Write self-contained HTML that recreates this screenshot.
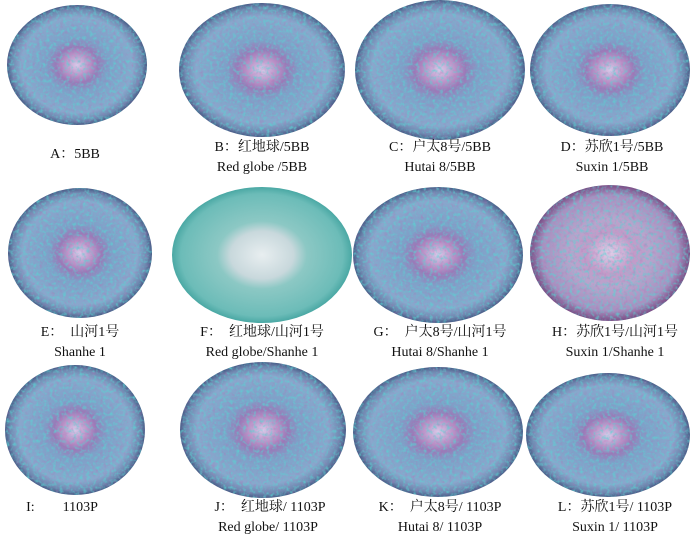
<!DOCTYPE html>
<html><head><meta charset="utf-8"><style>
html,body{margin:0;padding:0;background:#fff;}
svg{display:block}
text{font-family:"Liberation Serif","Noto Serif CJK SC",serif;font-size:14px;fill:#111;text-anchor:middle;white-space:pre}
</style></head><body>
<svg width="700" height="541" viewBox="0 0 700 541">
<defs>
<radialGradient id="g" cx="50%" cy="50%" r="50%">
<stop offset="0" stop-color="#d8c8e8"/>
<stop offset="0.2" stop-color="#b88cc4"/>
<stop offset="0.3" stop-color="#9a7ab8"/>
<stop offset="0.45" stop-color="#7fa0c8"/>
<stop offset="0.8" stop-color="#8aa6cc"/>
<stop offset="0.93" stop-color="#6f88b0"/>
<stop offset="1" stop-color="#4a5d88"/>
</radialGradient>
<radialGradient id="gp" cx="50%" cy="50%" r="50%">
<stop offset="0" stop-color="#e0cde8"/>
<stop offset="0.3" stop-color="#c49ac8"/>
<stop offset="0.5" stop-color="#b8a4cc"/>
<stop offset="0.85" stop-color="#a890c0"/>
<stop offset="1" stop-color="#7a4e86"/>
</radialGradient>
<radialGradient id="gg" cx="50%" cy="50%" r="50%">
<stop offset="0" stop-color="#e8eef0"/>
<stop offset="0.35" stop-color="#c8d8dc"/>
<stop offset="0.5" stop-color="#8cc8c4"/>
<stop offset="0.9" stop-color="#6cbcb8"/>
<stop offset="1" stop-color="#4aa8a4"/>
</radialGradient>
<filter id="n" x="0" y="0" width="100%" height="100%">
<feTurbulence type="fractalNoise" baseFrequency="0.3" numOctaves="2" seed="3"/>
<feColorMatrix type="matrix" values="0 0 0 0 0.1  0 0 0 0 0.65  0 0 0 0 0.65  0 0 0 2 -0.9"/>
<feComposite in2="SourceGraphic" operator="in"/>
</filter>
<filter id="n2" x="0" y="0" width="100%" height="100%">
<feTurbulence type="fractalNoise" baseFrequency="0.25" numOctaves="2" seed="9"/>
<feColorMatrix type="matrix" values="0 0 0 0 0.45  0 0 0 0 0.15  0 0 0 0 0.45  0 0 0 2 -1.1"/>
<feComposite in2="SourceGraphic" operator="in"/>
</filter>
<g id="m">
<ellipse cx="77" cy="65" rx="70" ry="60"/><ellipse cx="262" cy="70" rx="83" ry="67"/>
<ellipse cx="440" cy="70" rx="85" ry="70"/><ellipse cx="610" cy="70" rx="80" ry="66"/>
<ellipse cx="80" cy="253" rx="72" ry="65"/><ellipse cx="438" cy="255" rx="85" ry="68"/>
<ellipse cx="610" cy="253" rx="80" ry="68"/><ellipse cx="75" cy="430" rx="70" ry="65"/>
<ellipse cx="263" cy="430" rx="83" ry="68"/><ellipse cx="438" cy="432" rx="85" ry="65"/>
<ellipse cx="608" cy="435" rx="82" ry="62"/>
</g>
</defs>
<g>
<ellipse cx="77" cy="65" rx="70" ry="60" fill="url(#g)"/>
<ellipse cx="262" cy="70" rx="83" ry="67" fill="url(#g)"/>
<ellipse cx="440" cy="70" rx="85" ry="70" fill="url(#g)"/>
<ellipse cx="610" cy="70" rx="80" ry="66" fill="url(#g)"/>
<ellipse cx="80" cy="253" rx="72" ry="65" fill="url(#g)"/>
<ellipse cx="262" cy="255" rx="90" ry="68" fill="url(#gg)"/>
<ellipse cx="438" cy="255" rx="85" ry="68" fill="url(#g)"/>
<ellipse cx="610" cy="253" rx="80" ry="68" fill="url(#gp)"/>
<ellipse cx="75" cy="430" rx="70" ry="65" fill="url(#g)"/>
<ellipse cx="263" cy="430" rx="83" ry="68" fill="url(#g)"/>
<ellipse cx="438" cy="432" rx="85" ry="65" fill="url(#g)"/>
<ellipse cx="608" cy="435" rx="82" ry="62" fill="url(#g)"/>
</g>
<use href="#m" filter="url(#n)" opacity="0.9"/>
<use href="#m" filter="url(#n2)" opacity="0.5"/>
<text x="75" y="158">A：5BB</text>
<text x="262" y="151">B：红地球/5BB</text><text x="262" y="171">Red globe /5BB</text>
<text x="440" y="151">C：户太8号/5BB</text><text x="440" y="171">Hutai 8/5BB</text>
<text x="612" y="151">D：苏欣1号/5BB</text><text x="612" y="171">Suxin 1/5BB</text>
<text x="80" y="336">E：  山河1号</text><text x="80" y="356">Shanhe 1</text>
<text x="262" y="336">F：  红地球/山河1号</text><text x="262" y="356">Red globe/Shanhe 1</text>
<text x="440" y="336">G：  户太8号/山河1号</text><text x="440" y="356">Hutai 8/Shanhe 1</text>
<text x="615" y="336">H：苏欣1号/山河1号</text><text x="615" y="356">Suxin 1/Shanhe 1</text>
<text x="62" y="511">I:        1103P</text>
<text x="270" y="511">J：  红地球/ 1103P</text><text x="268" y="531">Red globe/ 1103P</text>
<text x="440" y="511">K：  户太8号/ 1103P</text><text x="440" y="531">Hutai 8/ 1103P</text>
<text x="615" y="511">L：苏欣1号/ 1103P</text><text x="615" y="531">Suxin 1/ 1103P</text>
</svg>
</body></html>
